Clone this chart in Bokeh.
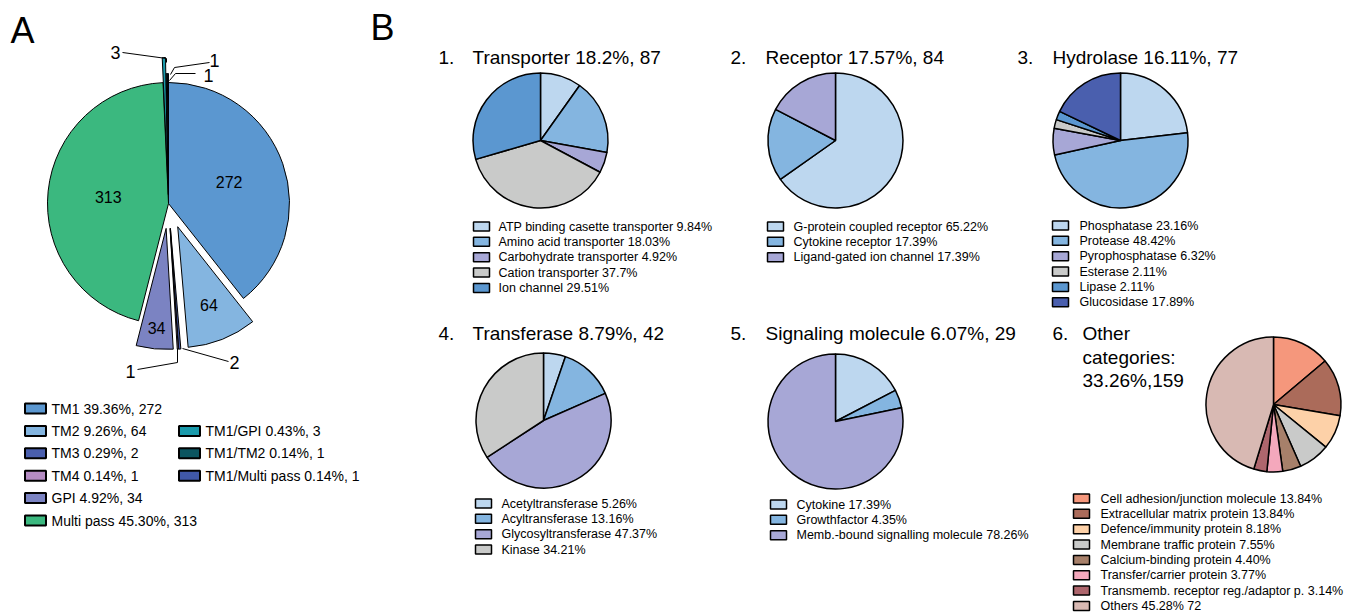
import numpy as np
from bokeh.plotting import figure
from bokeh.models import Range1d, ColumnDataSource
from bokeh.core.properties import value
from bokeh.embed import file_html
from bokeh.resources import INLINE

W, H = 1350, 614
FONT = "Liberation Sans"

# ---------------- Panel A data ----------------
a_labels = ["TM1", "TM2", "TM3", "TM4", "GPI", "Multi pass", "TM1/GPI", "TM1/TM2", "TM1/Multi pass"]
a_counts = [272, 64, 2, 1, 34, 313, 3, 1, 1]
a_pcts = ["39.36%", "9.26%", "0.29%", "0.14%", "4.92%", "45.30%", "0.43%", "0.14%", "0.14%"]
a_colors = ["#5b97d0", "#84b5e0", "#4a5fae", "#b58cc3", "#7b83c2", "#3bb87f", "#1a9aab", "#0b5560", "#4058a8"]

# ---------------- Panel B data ----------------
b_nums = ["1.", "2.", "3.", "4.", "5.", "6."]
b_titles = ["Transporter 18.2%, 87", "Receptor 17.57%, 84", "Hydrolase 16.11%, 77",
            "Transferase 8.79%, 42", "Signaling molecule 6.07%, 29",
            "Other\ncategories:\n33.26%,159"]

transporter_names = ["ATP binding casette transporter 9.84%", "Amino acid transporter 18.03%",
                     "Carbohydrate transporter 4.92%", "Cation transporter 37.7%", "Ion channel 29.51%"]
transporter_vals = [9.84, 18.03, 4.92, 37.7, 29.51]
transporter_cols = ["#bdd7ef", "#84b5e0", "#a7a7d6", "#c9cac9", "#5b97d0"]

receptor_names = ["G-protein coupled receptor 65.22%", "Cytokine receptor 17.39%",
                  "Ligand-gated ion channel 17.39%"]
receptor_vals = [65.22, 17.39, 17.39]
receptor_cols = ["#bdd7ef", "#84b5e0", "#a7a7d6"]

hydrolase_names = ["Phosphatase 23.16%", "Protease 48.42%", "Pyrophosphatase 6.32%",
                   "Esterase 2.11%", "Lipase 2.11%", "Glucosidase 17.89%"]
hydrolase_vals = [23.16, 48.42, 6.32, 2.11, 2.11, 17.89]
hydrolase_cols = ["#bdd7ef", "#84b5e0", "#a7a7d6", "#c9cac9", "#5b97d0", "#4a5fae"]

transferase_names = ["Acetyltransferase 5.26%", "Acyltransferase 13.16%",
                     "Glycosyltransferase 47.37%", "Kinase 34.21%"]
transferase_vals = [5.26, 13.16, 47.37, 34.21]
transferase_cols = ["#bdd7ef", "#84b5e0", "#a7a7d6", "#c9cac9"]

signaling_names = ["Cytokine 17.39%", "Growthfactor 4.35%", "Memb.-bound signalling molecule 78.26%"]
signaling_vals = [17.39, 4.35, 78.26]
signaling_cols = ["#bdd7ef", "#84b5e0", "#a7a7d6"]

other_names = ["Cell adhesion/junction molecule 13.84%", "Extracellular matrix protein 13.84%",
               "Defence/immunity protein 8.18%", "Membrane traffic protein 7.55%",
               "Calcium-binding protein 4.40%", "Transfer/carrier protein 3.77%",
               "Transmemb. receptor reg./adaptor p. 3.14%", "Others 45.28% 72"]
other_vals = [13.84, 13.84, 8.18, 7.55, 4.40, 3.77, 3.14, 45.28]
other_cols = ["#f5977c", "#ab6b5a", "#fdd1a8", "#c9cac9", "#a7806a", "#f4a8bc", "#ae666d", "#d8b9b3"]

# ---------------- figure ----------------
p = figure(width=W, height=H, x_range=Range1d(0, W), y_range=Range1d(0, H),
           output_backend="svg", toolbar_location=None,
           x_axis_location=None, y_axis_location=None, min_border=0)
p.grid.visible = False
p.outline_line_color = None
p.background_fill_color = "white"
p.border_fill_color = "white"


def Y(py):
    return H - py


def txt(xs, ys, texts, size, align="left", baseline="middle"):
    p.text(x=xs, y=[Y(v) for v in ys], text=texts, text_font=value(FONT),
           text_font_size=value(size), text_align=align, text_baseline=baseline,
           text_color="black")


def pie_angles(vals):
    v = np.asarray(vals, dtype=float)
    cum = np.concatenate([[0.0], np.cumsum(v)]) / v.sum()
    start = np.pi / 2 - cum[:-1] * 2 * np.pi
    end = np.pi / 2 - cum[1:] * 2 * np.pi
    return start, end


# ---------------- Panel A ----------------
acx, acy, ar = 168, 203, 121
explode = [0, 25, 25, 25, 25, 0, 25, 9, 9]
label_frac = [0.53, 0.70, None, None, 0.83, 0.5, None, None, None]
st, en = pie_angles(a_counts)
mid = (st + en) / 2
cx = acx + np.array(explode) * np.cos(mid)
cy = Y(acy) + np.array(explode) * np.sin(mid)
p.wedge(x=cx, y=cy, radius=ar, start_angle=st, end_angle=en, direction="clock",
        fill_color=a_colors, line_color="black", line_width=1)

lx, ly, lt = [], [], []
for i, f in enumerate(label_frac):
    if f is None:
        continue
    lx.append(cx[i] + f * ar * np.cos(mid[i]))
    ly.append(cy[i] + f * ar * np.sin(mid[i]))
    lt.append(str(a_counts[i]))
p.text(x=lx, y=ly, text=lt, text_font=value(FONT), text_font_size=value("16px"),
       text_align="center", text_baseline="middle", text_color="black")

# leader lines for the small slices
lead_xs = [[122, 166, 166], [209, 174, 170], [195, 175, 169], [137, 177, 177], [228, 182]]
lead_ys = [[52, 58, 62], [62, 67, 74], [73, 73, 80], [369, 362, 348], [361, 348]]
p.multi_line(xs=lead_xs, ys=[[Y(v) for v in ys] for ys in lead_ys], line_color="black", line_width=1)
small_counts = [a_counts[6], a_counts[7], a_counts[8], a_counts[3], a_counts[2]]
txt([115, 214, 208, 130, 234], [52, 60, 75, 371, 362], [str(c) for c in small_counts], "18px",
    align="center")

# legend A
col1 = [0, 1, 2, 3, 4, 5]
col2 = [6, 7, 8]
row_y = [408 + 22.4 * k for k in range(6)]
bx, by, bc, tx, ty, tt = [], [], [], [], [], []
for k, i in enumerate(col1):
    bx.append(35); by.append(row_y[k]); bc.append(a_colors[i])
    tx.append(51); ty.append(row_y[k]); tt.append(f"{a_labels[i]} {a_pcts[i]}, {a_counts[i]}")
for k, i in enumerate(col2):
    bx.append(189); by.append(row_y[k + 1]); bc.append(a_colors[i])
    tx.append(205); ty.append(row_y[k + 1]); tt.append(f"{a_labels[i]} {a_pcts[i]}, {a_counts[i]}")
p.rect(x=bx, y=[Y(v) for v in by], width=21, height=10, fill_color=bc, line_color="black", line_width=2)
txt(tx, ty, tt, "14px")

# panel letters
txt([10, 370], [30, 27], ["A", "B"], "36px")

# ---------------- Panel B ----------------
subs = [
    (transporter_names, transporter_vals, transporter_cols, (540, 140), (481, 498, 226)),
    (receptor_names, receptor_vals, receptor_cols, (835, 140), (775, 793, 226)),
    (hydrolase_names, hydrolase_vals, hydrolase_cols, (1120, 140), (1060, 1079, 225)),
    (transferase_names, transferase_vals, transferase_cols, (543, 420), (483, 501, 503)),
    (signaling_names, signaling_vals, signaling_cols, (835, 421), (778, 796, 504)),
    (other_names, other_vals, other_cols, (1273, 404), (1081, 1100, 498)),
]
title_pos = [(438, 472, 57), (730, 765, 57), (1017, 1052, 57),
             (438, 472, 333), (730, 765, 333), (1052, 1082, 333)]
R = 67.5
for (names, vals, cols, (pcx, pcy), (lbx, ltx, ly0)), (nx, tx0, ty0), num, title in zip(
        subs, title_pos, b_nums, b_titles):
    s, e = pie_angles(vals)
    p.wedge(x=pcx, y=Y(pcy), radius=R, start_angle=s, end_angle=e, direction="clock",
            fill_color=cols, line_color="black", line_width=1.5)
    rows = [ly0 + 15.35 * k for k in range(len(names))]
    p.rect(x=[lbx] * len(names), y=[Y(v) for v in rows], width=16, height=9,
           fill_color=cols, line_color="black", line_width=1.5)
    txt([ltx] * len(names), rows, names, "12.5px")
    lines = title.split("\n")
    txt([nx], [ty0], [num], "19px")
    txt([tx0] * len(lines), [ty0 + 23.5 * k for k in range(len(lines))], lines, "19px")

open("out.html", "w").write(file_html(p, INLINE))
